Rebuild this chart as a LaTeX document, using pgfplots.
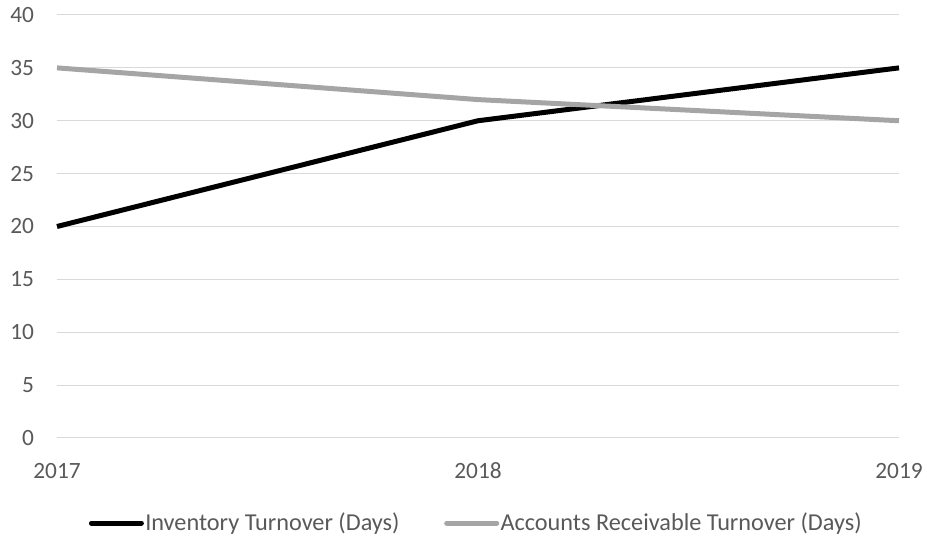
\documentclass[border=0pt]{standalone}
\usepackage{pgfplots}
\pgfplotsset{compat=1.18}
\usepackage{fontspec}
\setmainfont{Carlito}
\definecolor{tickgray}{HTML}{595959}
\definecolor{gridgray}{HTML}{D9D9D9}
\definecolor{argray}{HTML}{A5A5A5}
\begin{document}
\begin{tikzpicture}
\useasboundingbox (-42.75pt,-75pt) rectangle (652.5pt,328.5pt);
\begin{axis}[
  at={(0pt,0pt)}, anchor=south west,
  scale only axis,
  width=631.5pt, height=317.25pt,
  xmin=2017, xmax=2019, ymin=0, ymax=40,
  xtick={2017,2018,2019},
  ytick={0,5,...,40},
  axis line style={draw=none},
  major tick length=0pt,
  ymajorgrids,
  grid style={gridgray, line width=0.75pt},
  tick label style={font=\fontsize{17.5}{20}\selectfont, text=tickgray, inner sep=0pt},
  /pgf/number format/assume math mode=true,
  /pgf/number format/1000 sep={},
  xticklabel style={anchor=north, yshift=-18.5pt},
  yticklabel style={anchor=east, xshift=-17pt},
  legend style={at={(0.4976,-0.201)}, anchor=center, draw=none, fill=none,
    font=\fontsize{18.2}{21}\selectfont, text=tickgray,
    nodes={inner xsep=1pt, inner ysep=1pt},
    /tikz/every even column/.append style={column sep=32.5pt}},
  legend columns=2,
  legend cell align=left,
  legend image code/.code={\draw[#1, line cap=round] (1.9pt,0pt) -- (39.4pt,0pt);},
  clip=false,
]
\addplot[black, line width=3.75pt, line join=round] coordinates {(2017,20) (2018,30) (2019,35)};
\addlegendentry{Inventory Turnover (Days)}
\addplot[argray, line width=3.75pt, line join=round] coordinates {(2017,35) (2018,32) (2019,30)};
\addlegendentry{Accounts Receivable Turnover (Days)}
\end{axis}
\end{tikzpicture}
\end{document}
